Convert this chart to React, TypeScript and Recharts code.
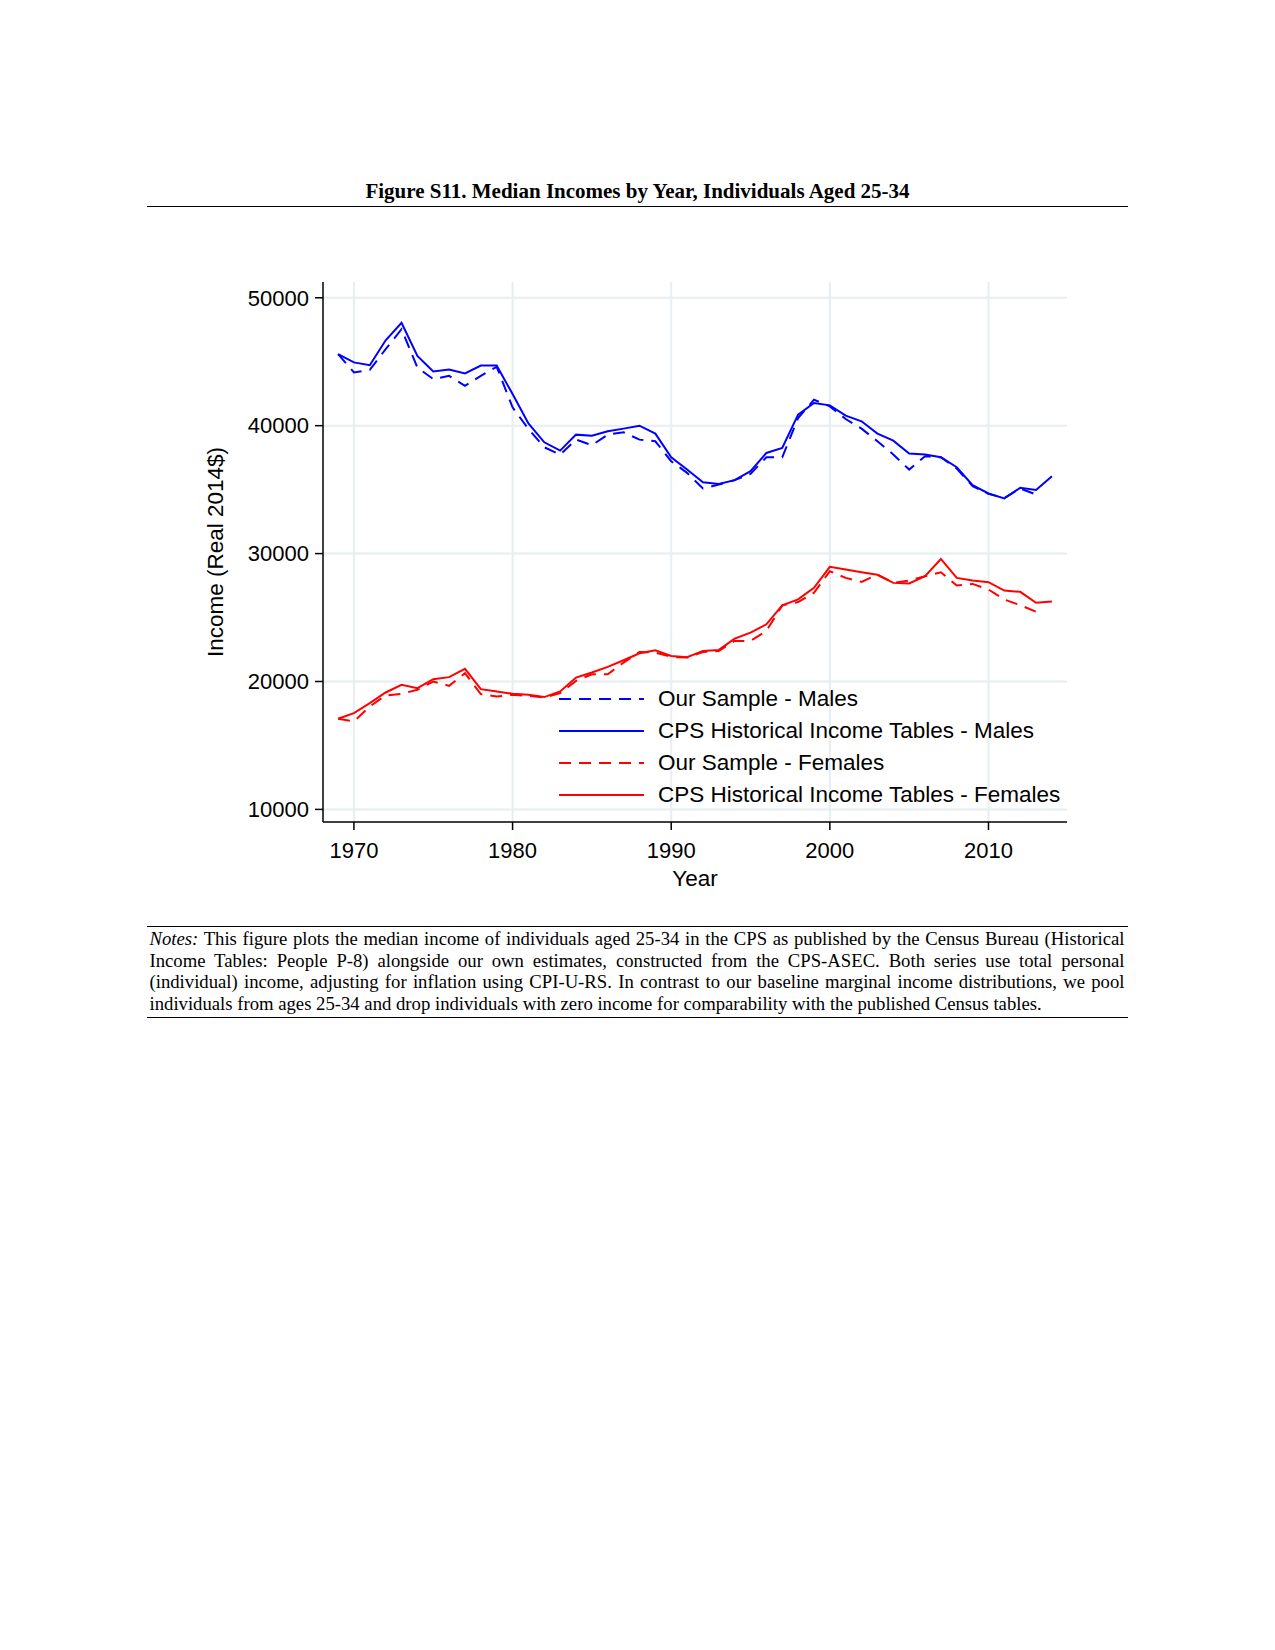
import { LineChart, Line, XAxis, YAxis, CartesianGrid } from "recharts";

const years = [
  1969, 1970, 1971, 1972, 1973, 1974, 1975, 1976, 1977, 1978, 1979, 1980,
  1981, 1982, 1983, 1984, 1985, 1986, 1987, 1988, 1989, 1990, 1991, 1992,
  1993, 1994, 1995, 1996, 1997, 1998, 1999, 2000, 2001, 2002, 2003, 2004,
  2005, 2006, 2007, 2008, 2009, 2010, 2011, 2012, 2013, 2014,
];

// CPS published tables, 1969-2014
const cpsMales = [
  45600, 44950, 44730, 46680, 48050, 45450, 44240, 44390, 44080, 44700, 44700, 42470,
  40180, 38700, 38050, 39300, 39220, 39560, 39770, 40000, 39380, 37530, 36570, 35580,
  35450, 35740, 36440, 37870, 38260, 40860, 41770, 41590, 40780, 40340, 39380, 38830,
  37820, 37740, 37530, 36750, 35350, 34700, 34310, 35140, 34980, 36050,
];

// our own CPS-ASEC estimates, 1969-2013
const sampleMales = [
  45600, 44160, 44370, 45980, 47540, 44550, 43640, 43900, 43120, 43900, 44600, 41430,
  39740, 38310, 37740, 38910, 38470, 39300, 39480, 38910, 38780, 37220, 36310, 35090,
  35400, 35740, 36230, 37530, 37530, 40600, 42030, 41510, 40520, 39770, 38780, 37750,
  36570, 37610, 37530, 36650, 35270, 34670, 34350, 35090, 34620,
];

const cpsFemales = [
  17090, 17530, 18310, 19140, 19740, 19480, 20180, 20340, 20990, 19400, 19220, 19040,
  18960, 18780, 19220, 20310, 20700, 21140, 21660, 22210, 22440, 22000, 21900, 22390,
  22470, 23350, 23820, 24470, 25950, 26420, 27330, 28960, 28750, 28540, 28340, 27710,
  27660, 28230, 29580, 28100, 27890, 27760, 27110, 27010, 26150, 26260,
];

const sampleFemales = [
  17090, 16880, 18050, 18910, 19040, 19350, 20000, 19660, 20650, 19010, 18830, 18960,
  18880, 18750, 19090, 20050, 20570, 20570, 21480, 22310, 22260, 21920, 21870, 22310,
  22390, 23170, 23170, 23950, 25950, 26210, 26940, 28620, 28100, 27790, 28360, 27710,
  27890, 28230, 28540, 27500, 27630, 27190, 26410, 25970, 25450,
];

const xTicks = [1970, 1980, 1990, 2000, 2010];
const yTicks = [10000, 20000, 30000, 40000, 50000];

const legendItems = [
  { label: "Our Sample - Males", color: "#0000ff", dashed: true },
  { label: "CPS Historical Income Tables - Males", color: "#0000ff", dashed: false },
  { label: "Our Sample - Females", color: "#ff0000", dashed: true },
  { label: "CPS Historical Income Tables - Females", color: "#ff0000", dashed: false },
];

const noteLines = [
  "This figure plots the median income of individuals aged 25-34 in the CPS as published by the Census Bureau (Historical",
  "Income Tables: People P-8) alongside our own estimates, constructed from the CPS-ASEC. Both series use total personal",
  "(individual) income, adjusting for inflation using CPI-U-RS. In contrast to our baseline marginal income distributions, we pool",
  "individuals from ages 25-34 and drop individuals with zero income for comparability with the published Census tables.",
];

const data = years.map((year, i) => ({
  year,
  cpsMales: cpsMales[i],
  sampleMales: sampleMales[i],
  cpsFemales: cpsFemales[i],
  sampleFemales: sampleFemales[i],
}));

const sans = "'Liberation Sans', Arial, sans-serif";
const serif = "'Liberation Serif', 'Times New Roman', serif";
const DASH = "12 8";

function LegendBox() {
  return (
    <div
      style={{
        position: "absolute",
        left: 551,
        top: 675,
        fontFamily: sans,
        fontSize: 22.5,
        color: "#000",
      }}
    >
      {legendItems.map((item) => (
        <div key={item.label} style={{ display: "flex", alignItems: "center", height: 32 }}>
          <svg width={85} height={4} style={{ marginRight: 14 }}>
            <line
              x1={0}
              y1={2}
              x2={85}
              y2={2}
              stroke={item.color}
              strokeWidth={2}
              strokeDasharray={item.dashed ? DASH : undefined}
            />
          </svg>
          <span style={{ whiteSpace: "nowrap" }}>{item.label}</span>
        </div>
      ))}
    </div>
  );
}

export default function App() {
  return (
    <div style={{ position: "relative", width: 1259, height: 1634, background: "#fff" }}>
      <div
        style={{
          position: "absolute",
          left: 139,
          top: 170,
          width: 981,
          textAlign: "center",
          fontFamily: serif,
          fontWeight: "bold",
          fontSize: 21,
          lineHeight: "26px",
        }}
      >
        Figure S11. Median Incomes by Year, Individuals Aged 25-34
      </div>
      <div style={{ position: "absolute", left: 139, top: 198, width: 981, borderTop: "1.5px solid #000" }} />

      <div style={{ position: "absolute", left: 0, top: 0 }}>
        <LineChart
          width={1259}
          height={900}
          data={data}
          margin={{ top: 274, right: 200, left: 190, bottom: 22 }}
        >
          <CartesianGrid
            stroke="#e6eef1"
            strokeWidth={2}
            horizontalValues={yTicks}
            verticalValues={xTicks}
          />
          <XAxis
            dataKey="year"
            type="number"
            domain={[1968.05, 2014.95]}
            ticks={xTicks}
            tickSize={8}
            tickMargin={12}
            height={64}
            axisLine={{ stroke: "#000", strokeWidth: 1.5 }}
            tickLine={{ stroke: "#000", strokeWidth: 1.5 }}
            tick={{ fill: "#000", fontSize: 22, fontFamily: sans }}
            label={{ value: "Year", position: "insideBottom", offset: 0, fill: "#000", fontSize: 22.5, fontFamily: sans }}
          />
          <YAxis
            type="number"
            domain={[9015, 51233]}
            ticks={yTicks}
            width={125}
            tickSize={8}
            tickMargin={6}
            axisLine={{ stroke: "#000", strokeWidth: 1.5 }}
            tickLine={{ stroke: "#000", strokeWidth: 1.5 }}
            tick={{ fill: "#000", fontSize: 22, fontFamily: sans }}
            label={{
              value: "Income (Real 2014$)",
              angle: -90,
              position: "insideLeft",
              offset: 17,
              fill: "#000",
              fontSize: 22.5,
              fontFamily: sans,
              style: { textAnchor: "middle" },
            }}
          />
          <Line
            dataKey="sampleMales"
            stroke="#0000ff"
            strokeWidth={2}
            strokeDasharray={DASH}
            dot={false}
            isAnimationActive={false}
          />
          <Line
            dataKey="cpsMales"
            stroke="#0000ff"
            strokeWidth={2}
            dot={false}
            isAnimationActive={false}
          />
          <Line
            dataKey="sampleFemales"
            stroke="#ff0000"
            strokeWidth={2}
            strokeDasharray={DASH}
            dot={false}
            isAnimationActive={false}
          />
          <Line
            dataKey="cpsFemales"
            stroke="#ff0000"
            strokeWidth={2}
            dot={false}
            isAnimationActive={false}
          />
        </LineChart>
      </div>
      <LegendBox />

      <div style={{ position: "absolute", left: 139, top: 917.5, width: 981, borderTop: "1.5px solid #000" }} />
      <div
        style={{
          position: "absolute",
          left: 141.5,
          top: 920,
          width: 975,
          fontFamily: serif,
          fontSize: 18.7,
          lineHeight: "21.5px",
        }}
      >
        {noteLines.map((line, i) => (
          <div
            key={i}
            style={{
              textAlign: i < noteLines.length - 1 ? "justify" : "left",
              textAlignLast: i < noteLines.length - 1 ? "justify" : "left",
              whiteSpace: "nowrap",
            }}
          >
            {i === 0 && <i>Notes:</i>}
            {i === 0 ? " " : ""}
            {line}
          </div>
        ))}
      </div>
      <div style={{ position: "absolute", left: 139, top: 1008.5, width: 981, borderTop: "1.5px solid #000" }} />
    </div>
  );
}
